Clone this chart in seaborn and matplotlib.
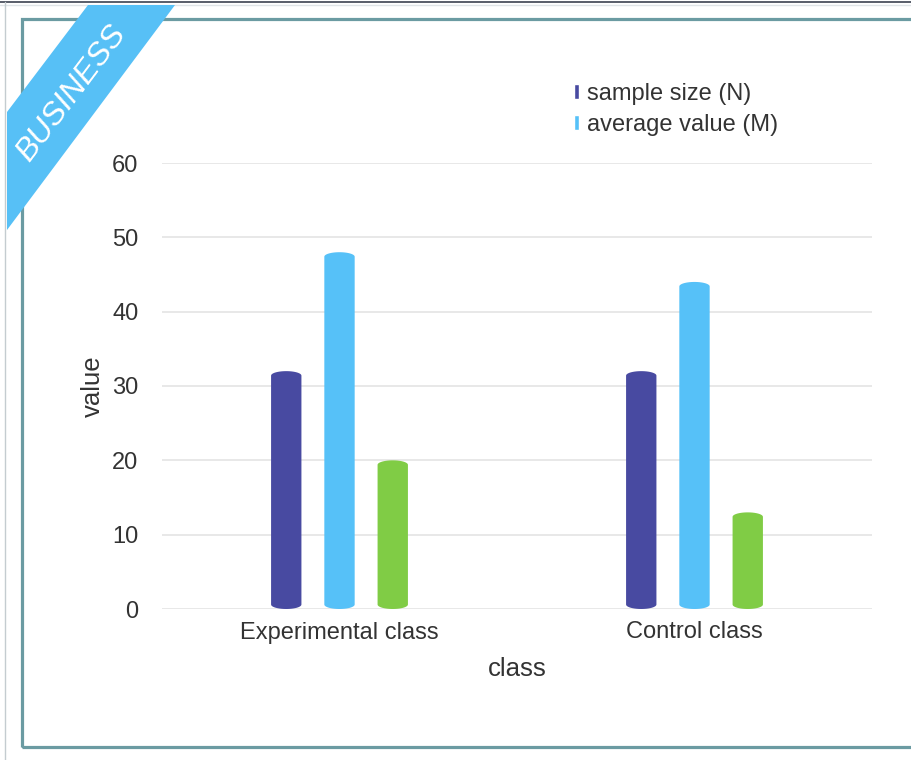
import matplotlib
matplotlib.use('Agg')
import matplotlib.pyplot as plt
from matplotlib.patches import Polygon, Rectangle, PathPatch
from matplotlib.path import Path
from matplotlib.lines import Line2D
import seaborn as sns
import pandas as pd
import numpy as np

# ── data ──────────────────────────────────────────────────────────────────────
classes = ['Experimental class', 'Control class']
series = ['sample size (N)', 'average value (M)', 'standard deviation (SD)']
sample_size = [32, 32]
average_value = [48, 44]
std_dev = [20, 13]
yticks = [0, 10, 20, 30, 40, 50, 60]
colors = ['#484aa1', '#56c1f8', '#80cc45']

df = pd.DataFrame({
    'class': classes * 3,
    'series': [s for s in series for _ in classes],
    'value': sample_size + average_value + std_dev,
})

sns.set_style('white')
plt.rcParams['font.family'] = ['Liberation Sans', 'DejaVu Sans']
W, H = 912, 760

fig = plt.figure(figsize=(W / 100, H / 100), dpi=100)
ax = fig.add_axes([162 / W, (H - 609) / H, (872 - 162) / W, (609 - 163) / H])

sns.barplot(data=df, x='class', y='value', hue='series', order=classes,
            hue_order=series, palette=colors, width=0.45, gap=0.43,
            saturation=1, ax=ax, legend=True)

ax.set_ylim(0, 60)
ax.set_xlim(-0.5, 1.5)
ax.set_yticks(yticks)
ax.yaxis.grid(True, color='#e4e4e4', lw=1.2)
ax.set_axisbelow(True)
for s in ax.spines.values():
    s.set_visible(False)
ax.tick_params(length=0, labelsize=17, colors='#333333')
ax.tick_params(axis='y', pad=17)
ax.tick_params(axis='x', pad=9)
ax.set_xlabel('class', fontsize=18.5, color='#333333', labelpad=10)
ax.set_ylabel('value', fontsize=18.5, color='#333333', labelpad=5)

# turn each bar into a cylinder-like shape with rounded ends
cap = 0.6
t = np.linspace(0, np.pi, 24)
for p in list(ax.patches):
    h = p.get_height()
    if h <= 0:
        continue
    x, w = p.get_x(), p.get_width()
    cx, rx = x + w / 2, w / 2
    top = np.column_stack([cx + rx * np.cos(t), (h - cap) + cap * np.sin(t)])
    bot = np.column_stack([cx - rx * np.cos(t), cap - cap * np.sin(t)])
    verts = np.vstack([top, bot, top[:1]])
    codes = [Path.MOVETO] + [Path.LINETO] * (len(verts) - 2) + [Path.CLOSEPOLY]
    ax.add_patch(PathPatch(Path(verts, codes), facecolor=p.get_facecolor(),
                           edgecolor='none', clip_on=False, zorder=p.get_zorder()))
    p.set_visible(False)

handles, labels = ax.get_legend_handles_labels()
ax.legend(handles[:2], labels[:2], loc='upper left', frameon=False,
          bbox_to_anchor=(574 / W, 1 - 83 / H), bbox_transform=fig.transFigure,
          fontsize=17, handlelength=0.22, handleheight=0.6, handletextpad=0.35,
          labelspacing=0.38, borderpad=0, borderaxespad=0, labelcolor='#333333')

# ── frame and corner ribbon ───────────────────────────────────────────────────
fig.add_artist(Rectangle((22.5 / W, 1 - 747 / H), 1.0, (747 - 19) / H,
                         transform=fig.transFigure, fill=False,
                         edgecolor='#6b9ba2', lw=2.3))
fig.add_artist(Line2D([0, 1], [1 - 2 / H, 1 - 2 / H], transform=fig.transFigure,
                      color='#3c4250', lw=1.2))
fig.add_artist(Line2D([0, 1], [1 - 5 / H, 1 - 5 / H], transform=fig.transFigure,
                      color='#dfe4e7', lw=1))
fig.add_artist(Line2D([5.5 / W, 5.5 / W], [0, 1 - 2 / H], transform=fig.transFigure,
                      color='#c4ccd0', lw=1))

rib = [(88, 5), (175, 5), (7, 230), (7, 112)]
fig.add_artist(Polygon([(x / W, 1 - y / H) for x, y in rib], closed=True,
                       transform=fig.transFigure, facecolor='#57c0f6',
                       edgecolor='none', zorder=5))
fig.text(71 / W, 1 - 93 / H, 'BUSINESS', rotation=53, color='white',
         fontsize=23, style='italic', ha='center', va='center',
         rotation_mode='anchor', zorder=6)

fig.savefig('out.png', dpi=100, facecolor='white')
